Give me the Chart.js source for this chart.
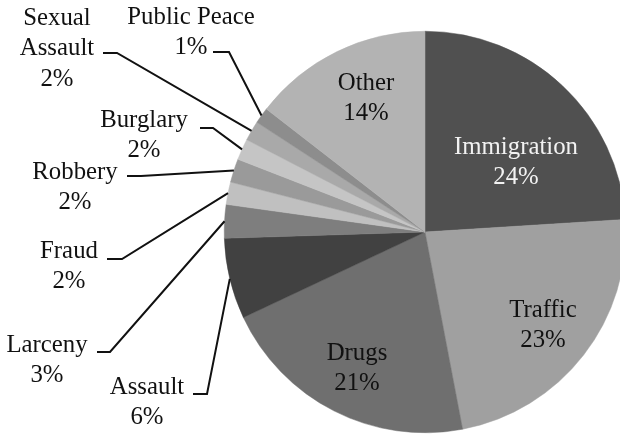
<!DOCTYPE html>
<html>
<head>
<meta charset="utf-8">
<script src="https://cdn.jsdelivr.net/npm/chart.js@4/dist/chart.umd.min.js"></script>
<style>
    html, body {margin: 0; padding: 0; background: #fff; overflow: hidden;}
    #wrap {position: relative; width: 640px; height: 436px;}
</style>
</head>
<body>
<div id="wrap"><canvas id="pieChart"></canvas></div>
<script>
// ── DATA ──
const categories = ['Immigration', 'Traffic', 'Drugs', 'Assault', 'Larceny', 'Fraud',
    'Robbery', 'Burglary', 'Sexual Assault', 'Public Peace', 'Other'];
// slice shares
const shares = [24, 23, 21, 6.5, 2.7, 1.8, 1.9, 1.7, 1.6, 1.3, 14.5];
// percentages as printed on the chart
const pctLabels = ['24%', '23%', '21%', '6%', '3%', '2%', '2%', '2%', '2%', '1%', '14%'];

// ── STYLE / LAYOUT ──
const SLICE_COLORS = ['#505050', '#a0a0a0', '#6f6f6f', '#414141', '#7e7e7e', '#c0c0c0',
    '#9a9a9a', '#c5c5c5', '#a9a9a9', '#8d8d8d', '#b3b3b3'];
const FONT = '24.8px "Liberation Serif", "Times New Roman", serif';
const LINE_H = 30.5;

// text lines per label (category name may wrap)
const labelLines = [
    ['Immigration'], ['Traffic'], ['Drugs'], ['Assault'], ['Larceny'], ['Fraud'],
    ['Robbery'], ['Burglary'], ['Sexual', 'Assault'], ['Public Peace'], ['Other']
];
// centre of first text line
const labelPos = [
    [516, 147], [543, 310], [357, 353], [147, 387], [47, 345], [69, 251],
    [75, 172], [144, 120], [57, 18], [191, 17], [366, 83]
];
const labelColor = ['#f2f2f2', '#111', '#111', '#111', '#111', '#111', '#111', '#111', '#111', '#111', '#111'];
// leader lines: [x start, y, x elbow] -> then to slice edge
const leaders = [
    null, null, null,
    [193, 394, 207],
    [97, 352, 110],
    [107, 259, 122],
    [127, 176, 141],
    [200, 128, 213],
    [103, 53, 117],
    [213, 52, 229],
    null
];

const labelPlugin = {
    id: 'sliceLabels',
    afterDatasetsDraw(chart) {
        const ctx = chart.ctx;
        const meta = chart.getDatasetMeta(0);
        ctx.save();
        ctx.font = FONT;
        ctx.textAlign = 'center';
        ctx.textBaseline = 'middle';
        meta.data.forEach((arc, i) => {
            const p = arc.getProps(['x', 'y', 'startAngle', 'endAngle', 'outerRadius'], true);
            const mid = (p.startAngle + p.endAngle) / 2;
            const ld = leaders[i];
            if (ld) {
                const ex = p.x + Math.cos(mid) * p.outerRadius;
                const ey = p.y + Math.sin(mid) * p.outerRadius;
                ctx.beginPath();
                ctx.strokeStyle = '#111';
                ctx.lineWidth = 2;
                ctx.moveTo(ld[0], ld[1]);
                ctx.lineTo(ld[2], ld[1]);
                ctx.lineTo(ex, ey);
                ctx.stroke();
            }
            const lines = labelLines[i].concat([pctLabels[i]]);
            ctx.fillStyle = labelColor[i];
            lines.forEach((t, k) => {
                ctx.fillText(t, labelPos[i][0], labelPos[i][1] + k * LINE_H);
            });
        });
        ctx.restore();
    }
};

new Chart(document.getElementById('pieChart'), {
    type: 'pie',
    data: {
        labels: categories,
        datasets: [{
            data: shares,
            backgroundColor: SLICE_COLORS,
            borderColor: SLICE_COLORS,
            borderWidth: 0.5
        }]
    },
    options: {
        responsive: true, maintainAspectRatio: false, animation: false,
        layout: {padding: {left: 224, right: 14, top: 31, bottom: 3}},
        plugins: {legend: {display: false}, tooltip: {enabled: false}}
    },
    plugins: [labelPlugin]
});
</script>
</body>
</html>
